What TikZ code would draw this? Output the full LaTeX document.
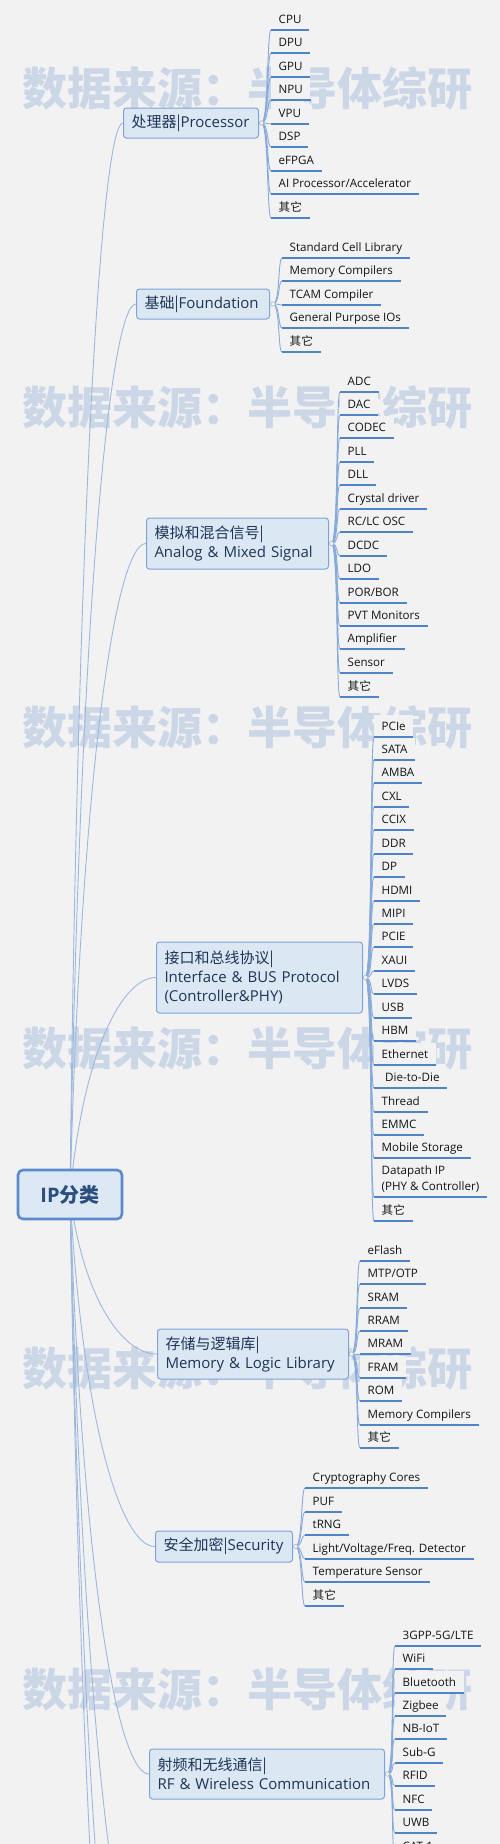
\documentclass[tikz,border=0pt]{standalone}
\usepackage{fontspec}
\setmainfont{Open Sans}
\newfontfamily\cjk{Noto Sans CJK SC}
\usetikzlibrary{calc}
\definecolor{bg}{HTML}{F2F2F2}
\definecolor{wm}{HTML}{CBD6E7}
\definecolor{catfill}{HTML}{DCE7F4}
\definecolor{catdraw}{HTML}{7EA3D5}
\definecolor{cattext}{HTML}{1E3556}
\definecolor{rootfill}{HTML}{DDE8F5}
\definecolor{rootdraw}{HTML}{5B8BCB}
\definecolor{roottext}{HTML}{2C4E7E}
\definecolor{uline}{HTML}{4F84CB}
\definecolor{conn}{HTML}{86AADB}
\definecolor{rconn}{HTML}{9DB8DF}
\definecolor{leaftext}{HTML}{141414}
\definecolor{jdraw}{HTML}{A3B5CB}
\tikzset{
 leaf/.style={anchor=south west, fill=bg, inner xsep=7.5pt, inner ysep=0pt,
   text height=16pt, text depth=6pt, font=\fontsize{11.6}{16}\selectfont, text=leaftext},
 cat/.style={anchor=west, draw=catdraw, fill=catfill, line width=1pt, rounded corners=3pt,
   inner xsep=8pt, inner ysep=0pt, align=left, font=\fontsize{15}{19}\selectfont, text=cattext},
 rootbox/.style={draw=rootdraw, fill=rootfill, line width=2.6pt, rounded corners=5pt,
   minimum width=104pt, minimum height=49pt, font=\fontsize{20}{24}\selectfont\bfseries, text=roottext},
 ul/.style={draw=uline, line width=1.4pt},
 leafconn/.style={draw=conn, line width=0.9pt},
 rootconn/.style={draw=rconn, line width=0.9pt},
 jdot/.style={circle, draw=jdraw, fill=bg, line width=0.6pt, inner sep=0pt, minimum size=4.4pt},
 wmark/.style={font=\cjk\bfseries\fontsize{45}{50}\selectfont, text=wm, inner sep=0pt},
}
% #1 prefix, #2 junction x, #3 junction y, #4 leaf x, #5 list y/text
\newcommand\branch[5]{%
 \coordinate (#1j) at (#2,#3);
 \foreach \yy/\lbl [count=\kk] in {#5} {
   \node[leaf] (#1\kk) at (#4,\yy) {\lbl};
   \draw[leafconn] (#1j) .. controls +(7,0) and +(-4,0) .. (#1\kk.south west);
   \draw[ul] (#1\kk.south west) -- (#1\kk.south east);
 }
}
\newcommand\rootline[1]{%
 \draw[rootconn] let \p1=(rc), \p2=(#1) in (\p1) .. controls
   (\x1+0.15*\x2-0.15*\x1, \y1+0.65*\y2-0.65*\y1) and (\x1+0.6*\x2-0.6*\x1, \y2) .. (\p2);
}
\begin{document}
\begin{tikzpicture}[x=1pt,y=-1pt]
\useasboundingbox (0,0) rectangle (500,1844);
\fill[bg] (0,0) rectangle (500,1844);
\clip (0,0) rectangle (500,1844);
% watermarks
\foreach \wy [count=\w] in {88,407,727,1048,1368,1689}
  \node[wmark] (wm\w) at (247.5,\wy) {数据来源：半导体综研};
\coordinate (rc) at (70,1194.5);
% categories
\node[cat, text width=119pt, minimum height=30pt] (proc) at (123,123) {{\cjk 处理器|}Processor};
\node[cat, text width=117pt, minimum height=30pt] (found) at (136,304) {{\cjk 基础|}Foundation};
\node[cat, text width=166pt, minimum height=51pt] (analog) at (146,543.5) {{\cjk 模拟和混合信号|}\\Analog \& Mixed Signal};
\node[cat, text width=190pt, minimum height=71pt] (iface) at (156,977.5) {{\cjk 接口和总线协议|}\\Interface \& BUS Protocol\\(Controller\&PHY)};
\node[cat, text width=175pt, minimum height=50pt] (mem) at (157,1354) {{\cjk 存储与逻辑库|}\\Memory \& Logic Library};
\node[cat, text width=121pt, minimum height=31pt] (sec) at (155,1546.5) {{\cjk 安全加密|}Security};
\node[cat, text width=219pt, minimum height=50pt] (rf) at (149,1774) {{\cjk 射频和无线通信|}\\RF \& Wireless Communication};
% leaves
\branch{p}{261.5}{123}{271}{30/CPU, 53/DPU, 77/GPU, 100/NPU, 124/VPU, 147/DSP, 171/eFPGA,
  194/{AI Processor/Accelerator}, 218/{\cjk 其它}}
\branch{f}{273}{304}{282}{258/Standard Cell Library, 281/Memory Compilers, 305/TCAM Compiler,
  328/General Purpose IOs, 352/{\cjk 其它}}
\branch{a}{331.5}{543.5}{340}{392/ADC, 415/DAC, 438/CODEC, 462/PLL, 485/DLL, 509/Crystal driver,
  532/{RC/LC OSC}, 556/DCDC, 579/LDO, 603/{POR/BOR}, 626/PVT Monitors, 649/Amplifier, 673/Sensor, 697/{\cjk 其它}}
\branch{i}{365.5}{977.5}{374}{737/PCIe, 760/SATA, 783/AMBA, 807/CXL, 830/CCIX, 854/DDR, 877/DP,
  901/HDMI, 924/MIPI, 947/PCIE, 971/XAUI, 994/LVDS, 1018/USB, 1041/HBM, 1065/Ethernet,
  1088/{\hspace{3.5pt}Die-to-Die}, 1112/Thread, 1135/EMMC, 1158/Mobile Storage, 1221/{\cjk 其它}}
\node[leaf, text height=32pt] (idp) at (374,1197)
  {\begin{tabular}[b]{@{}l@{}}Datapath IP\\(PHY \& Controller)\end{tabular}};
\draw[leafconn] (ij) .. controls +(7,0) and +(-4,0) .. (idp.south west);
\draw[ul] (idp.south west) -- (idp.south east);
\branch{m}{351.5}{1354}{360}{1261/eFlash, 1284/{MTP/OTP}, 1308/SRAM, 1331/RRAM, 1354/MRAM, 1378/FRAM,
  1401/ROM, 1425/Memory Compilers, 1448/{\cjk 其它}}
\branch{s}{295.5}{1546.5}{305}{1488/Cryptography Cores, 1512/PUF, 1535/tRNG,
  1559/{Light/Voltage/Freq. Detector}, 1582/Temperature Sensor, 1606/{\cjk 其它}}
\branch{r}{387.5}{1774}{395}{1646/{3GPP-5G/LTE}, 1669/WiFi, 1693/Bluetooth, 1716/Zigbee, 1739/NB-IoT,
  1763/Sub-G, 1786/RFID, 1810/NFC, 1833/UWB, 1857/CAT-1}
% junction dots
\foreach \g in {p,f,a,i,m,s,r} \node[jdot] (\g dot) at (\g j) {};
% root connectors
\coordinate (hid1) at (150,2000);
\coordinate (hid2) at (150,2200);
\coordinate (hid3) at (150,2350);
\rootline{proc.west}
\rootline{found.west}
\rootline{analog.west}
\rootline{iface.west}
\rootline{mem.west}
\rootline{sec.west}
\rootline{rf.west}
\rootline{hid1}
\rootline{hid2}
\rootline{hid3}
\node[rootbox] (root) at (rc) {IP{\cjk 分类}};
\end{tikzpicture}
\end{document}
